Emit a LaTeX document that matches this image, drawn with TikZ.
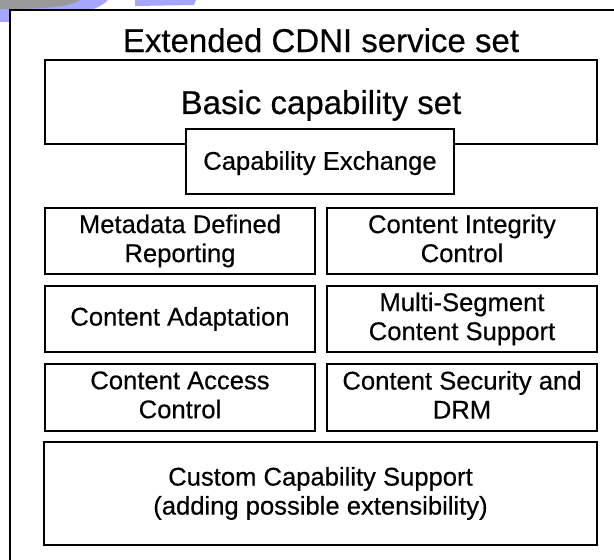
\documentclass[tikz,border=0pt]{standalone}
\usepackage{fontspec}
\setmainfont{Liberation Sans}[FakeBold=0.4]
\usepackage{tikz}

\begin{document}
\begin{tikzpicture}[x=1pt, y=-1pt,
			capbox/.style={draw, fill=white, line width=1.2pt, align=center, inner sep=0pt,
				text depth=5.4pt, font=\fontsize{25.6}{29}\selectfont},
			every path/.style={thick}]
			\useasboundingbox (0,0) rectangle (614,560);
			
			% Slide decoration in the corner
			\fill[blue!35] (0,0) -- (108,0) .. controls (95,14) and (50,22) .. (0,22) -- cycle;
			\fill[blue!35] (135,0) -- (196,0) -- (194,5) -- (135,6) -- cycle;
			\fill[black!40] (0,0) -- (80,0) .. controls (70,7) and (45,9) .. (0,9) -- cycle;
			\fill[white] (10,10) rectangle (614,30);
			
			% Outer frame
			\draw[line width=2pt] (10,560) -- (10,10) -- (614,10);
			\node[anchor=base, font=\fontsize{33}{36}\selectfont] (title) at (321,52) {Extended CDNI service set};
			
			% Define the basic set and the exchange on top of it
			\node[capbox, minimum width=552pt, minimum height=84pt, text depth=0pt,
				font=\fontsize{33}{36}\selectfont] (basic) at (321,102) {Basic capability set};
			\node[capbox, minimum width=268pt, minimum height=65pt, text depth=2pt] (capex) at (320,161.5)
				{Capability Exchange};
			
			% Define the two columns of capabilities
			\node[capbox, minimum width=270pt, minimum height=66pt] (mdr) at (180,241)
				{Metadata Defined\\Reporting};
			\node[capbox, minimum width=270pt, minimum height=66pt] (cic) at (462,241)
				{Content Integrity\\Control};
			\node[capbox, minimum width=270pt, minimum height=66pt] (cad) at (180,319)
				{Content Adaptation};
			\node[capbox, minimum width=270pt, minimum height=66pt] (msc) at (462,319)
				{Multi-Segment\\Content Support};
			\node[capbox, minimum width=270pt, minimum height=67pt] (cac) at (180,397.5)
				{Content Access\\Control};
			\node[capbox, minimum width=270pt, minimum height=67pt] (csd) at (462,397.5)
				{Content Security and\\DRM};
			
			% Define the custom support
			\node[capbox, minimum width=553pt, minimum height=103pt] (ccs) at (320.5,493.5)
				{Custom Capability Support\\(adding possible extensibility)};
		\end{tikzpicture}
\end{document}
